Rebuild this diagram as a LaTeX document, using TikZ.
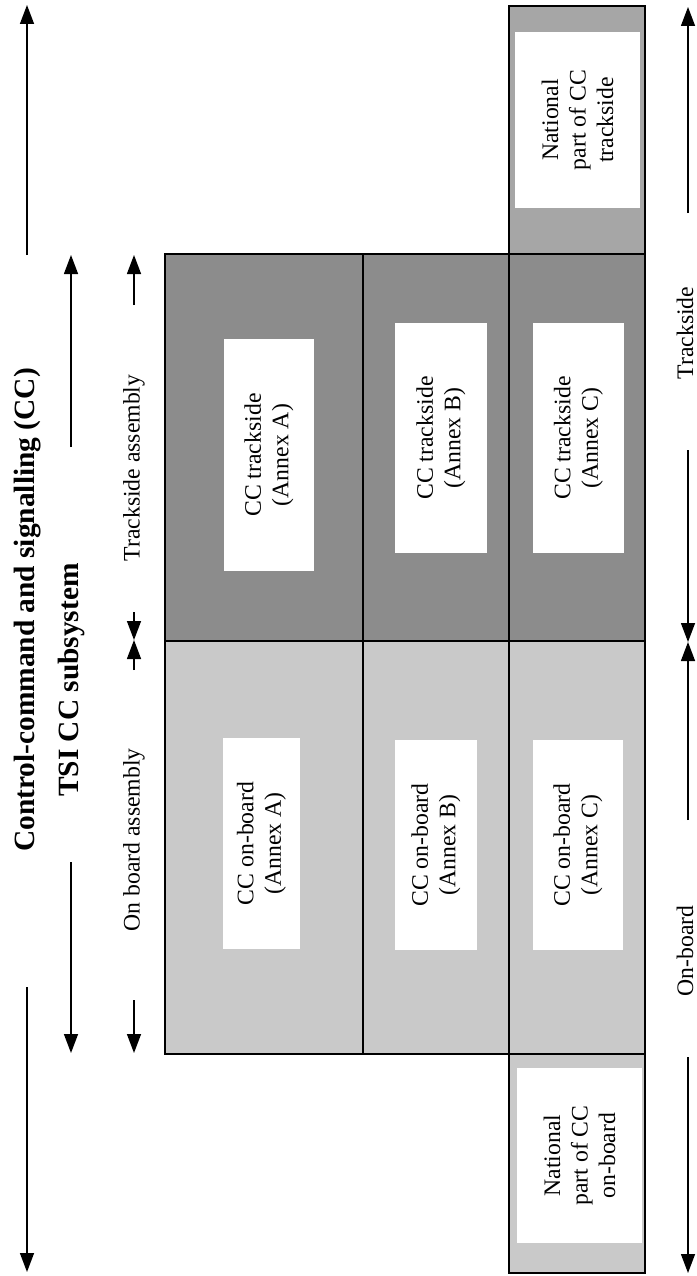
\documentclass[tikz,border=0pt]{standalone}
\usepackage{fontspec}
\setmainfont{Liberation Serif}
\usetikzlibrary{arrows.meta}
\definecolor{darkcell}{HTML}{8C8C8C}
\definecolor{lightcell}{HTML}{C9C9C9}
\definecolor{natdark}{HTML}{A6A6A6}
\definecolor{natlight}{HTML}{C9C9C9}
\tikzset{
  cell/.style={draw=black, line width=1.8pt, inner sep=0pt, outer sep=0pt},
  whitebox/.style={fill=white, draw=none, rotate=90, inner sep=0pt, align=center,
    font=\fontsize{23.7}{27.5}\selectfont},
  lbl/.style={rotate=90, inner sep=0pt, font=\fontsize{23.7}{27.5}\selectfont},
  ttl/.style={rotate=90, inner sep=0pt, font=\bfseries\fontsize{29.4}{33}\selectfont},
  arr/.style={line width=1.4pt, -{Triangle[length=19pt,width=14pt]}},
}
\begin{document}
\begin{tikzpicture}[x=1pt,y=-1pt]
\useasboundingbox[fill=white] (0,0) rectangle (696,1276);
% grid cells
\node[cell, fill=darkcell, minimum width=198, minimum height=387] (tA) at (264,447.5) {};
\node[cell, fill=darkcell, minimum width=146, minimum height=387] (tB) at (436,447.5) {};
\node[cell, fill=darkcell, minimum width=136, minimum height=387] (tC) at (577,447.5) {};
\node[cell, fill=lightcell, minimum width=198, minimum height=413] (oA) at (264,847.5) {};
\node[cell, fill=lightcell, minimum width=146, minimum height=413] (oB) at (436,847.5) {};
\node[cell, fill=lightcell, minimum width=136, minimum height=413] (oC) at (577,847.5) {};
\node[cell, fill=natdark, minimum width=136, minimum height=248] (nT) at (577,130) {};
\node[cell, fill=natlight, minimum width=136, minimum height=219] (nO) at (577,1163.5) {};
% white boxes
\node[whitebox, minimum width=232, minimum height=90] (wtA) at (269,455) {CC trackside\\(Annex A)};
\node[whitebox, minimum width=230, minimum height=92] (wtB) at (441,438) {CC trackside\\(Annex B)};
\node[whitebox, minimum width=230, minimum height=91] (wtC) at (578.5,438) {CC trackside\\(Annex C)};
\node[whitebox, minimum width=211, minimum height=77] (woA) at (261.5,843.5) {CC on-board\\(Annex A)};
\node[whitebox, minimum width=210, minimum height=82] (woB) at (436,845) {CC on-board\\(Annex B)};
\node[whitebox, minimum width=210, minimum height=90] (woC) at (578,845) {CC on-board\\(Annex C)};
\node[whitebox, minimum width=176, minimum height=125] (wnT) at (577.5,120) {National\\part of CC\\trackside};
\node[whitebox, minimum width=175, minimum height=125] (wnO) at (579.5,1155.5) {National\\part of CC\\on-board};
% column 1
\node[ttl] (title) at (28,610) {Control-command and signalling (CC)};
\coordinate (c1a) at (27,255); \coordinate (c1b) at (27,5);
\coordinate (c1c) at (27,987); \coordinate (c1d) at (27,1272);
\draw[arr] (c1a) -- (c1b);
\draw[arr] (c1c) -- (c1d);
% column 2
\node[ttl] (tsi) at (71,680) {TSI CC subsystem};
\coordinate (c2a) at (71,447); \coordinate (c2b) at (71,255);
\coordinate (c2c) at (71,862); \coordinate (c2d) at (71,1053);
\draw[arr] (c2a) -- (c2b);
\draw[arr] (c2c) -- (c2d);
% column 3
\node[lbl] (tass) at (134,468) {Trackside assembly};
\node[lbl] (oass) at (134,840) {On board assembly};
\coordinate (c3a) at (134,305); \coordinate (c3b) at (134,255);
\coordinate (c3c) at (134,612); \coordinate (c3m) at (134,640);
\coordinate (c3e) at (134,670);
\coordinate (c3f) at (134,1000); \coordinate (c3g) at (134,1053);
\draw[arr] (c3a) -- (c3b);
\draw[arr] (c3c) -- (c3m);
\draw[arr] (c3e) -- (c3m);
\draw[arr] (c3f) -- (c3g);
% right column
\node[lbl] (track) at (685,333) {Trackside};
\node[lbl] (onb) at (685,951) {On-board};
\coordinate (r1) at (688,213); \coordinate (r0) at (688,7);
\coordinate (r2) at (688,450); \coordinate (rm) at (688,642);
\coordinate (r3) at (688,820);
\coordinate (r4) at (688,1057); \coordinate (r5) at (688,1273);
\draw[arr] (r1) -- (r0);
\draw[arr] (r2) -- (rm);
\draw[arr] (r3) -- (rm);
\draw[arr] (r4) -- (r5);
\end{tikzpicture}
\end{document}
